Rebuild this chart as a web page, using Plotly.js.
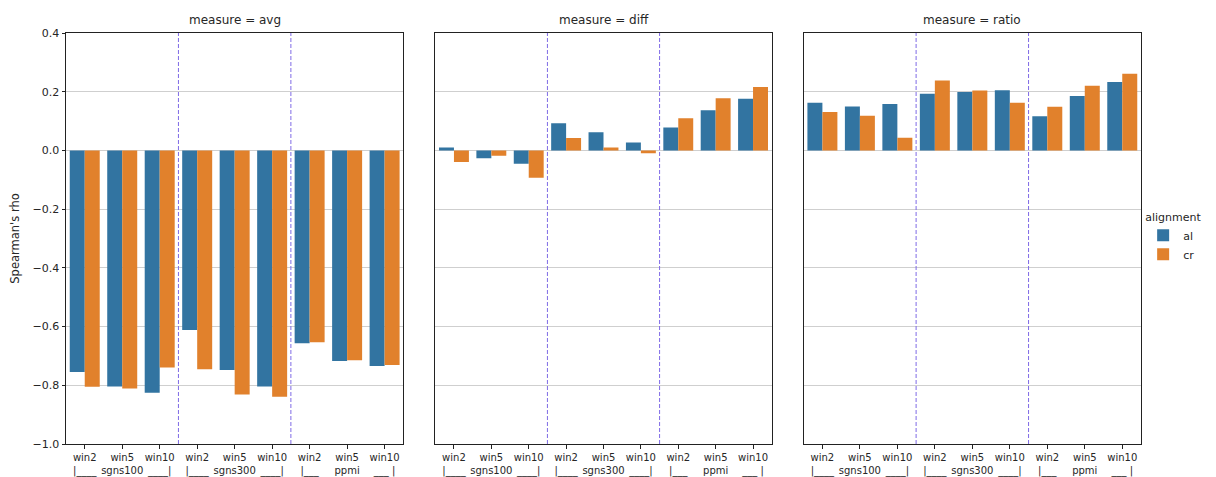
<!DOCTYPE html>
<html>
<head>
<meta charset="utf-8">
<script src="https://cdn.plot.ly/plotly-3.0.1.min.js"></script>
<style>html,body{margin:0;padding:0;background:#fff;}#chart{width:1216px;height:477px;}</style>
</head>
<body>
<div id="chart"></div>
<script>
// ---- data ----
const windows = ['win2', 'win5', 'win10'];
const models = ['sgns100', 'sgns300', 'ppmi'];
const measures = ['avg', 'diff', 'ratio'];
const alignments = ['al', 'cr'];
const tickLine1 = ['win2', 'win5', 'win10', 'win2', 'win5', 'win10', 'win2', 'win5', 'win10'];
const tickLine2 = ['|____', 'sgns100', '____|', '|____', 'sgns300', '____|', '|___', 'ppmi', '___ |'];

const avg_al = [-0.755, -0.804, -0.825, -0.612, -0.748, -0.804, -0.657, -0.717, -0.734];
const avg_cr = [-0.805, -0.811, -0.739, -0.745, -0.831, -0.839, -0.653, -0.715, -0.731];
const diff_al = [0.010, -0.027, -0.045, 0.093, 0.062, 0.027, 0.078, 0.137, 0.176];
const diff_cr = [-0.039, -0.018, -0.093, 0.042, 0.010, -0.010, 0.110, 0.178, 0.216];
const ratio_al = [0.162, 0.150, 0.158, 0.193, 0.199, 0.205, 0.116, 0.185, 0.233];
const ratio_cr = [0.131, 0.118, 0.043, 0.238, 0.204, 0.162, 0.149, 0.220, 0.261];

const seriesByMeasure = {
  avg: [avg_al, avg_cr],
  diff: [diff_al, diff_cr],
  ratio: [ratio_al, ratio_cr]
};

// ---- styling ----
const colors = {al: '#3274a1', cr: '#e1812c'};
const FONT = 'DejaVu Sans, sans-serif';
const domains = [[0, 0.3138], [0.3435, 0.6565], [0.6862, 1]];
const xpos = tickLine1.map((_, i) => i);
const ticktext = tickLine1.map((t, i) => t + '<br>' + tickLine2[i]);

const traces = [];
measures.forEach((m, mi) => {
  const sfx = mi === 0 ? '' : String(mi + 1);
  alignments.forEach((a, ai) => {
    traces.push({
      type: 'bar',
      x: xpos,
      y: seriesByMeasure[m][ai],
      name: a,
      legendgroup: a,
      showlegend: mi === 0,
      marker: {color: colors[a], line: {width: 0}},
      xaxis: 'x' + sfx,
      yaxis: 'y' + sfx,
      hoverinfo: 'skip'
    });
  });
});

const layout = {
  width: 1216, height: 477,
  margin: {l: 66, r: 73, t: 33, b: 33},
  paper_bgcolor: '#fff', plot_bgcolor: '#fff',
  font: {family: FONT, size: 11, color: '#262626'},
  barmode: 'group', bargap: 0.2, bargroupgap: 0,
  showlegend: true,
  legend: {
    title: {text: 'alignment', font: {size: 11}},
    x: 1.002, xanchor: 'left', y: 0.578, yanchor: 'top',
    font: {size: 11}, bgcolor: 'rgba(0,0,0,0)', tracegroupgap: 0,
    itemwidth: 30
  },
  shapes: [],
  annotations: []
};

measures.forEach((m, mi) => {
  const sfx = mi === 0 ? '' : String(mi + 1);
  layout['xaxis' + sfx] = {
    domain: domains[mi], anchor: 'y' + sfx,
    range: [-0.5, tickLine1.length - 0.5],
    tickmode: 'array', tickvals: xpos, ticktext: ticktext,
    tickangle: 0,
    ticks: 'outside', ticklen: 3.5, tickcolor: '#222',
    showline: true, mirror: true, linecolor: '#222', linewidth: 1,
    showgrid: false, zeroline: false, fixedrange: true,
    tickfont: {size: 10}
  };
  layout['yaxis' + sfx] = {
    anchor: 'x' + sfx,
    range: [-1.0, 0.4], dtick: 0.2, tick0: 0, tickformat: '.1f',
    matches: mi === 0 ? undefined : 'y',
    showticklabels: mi === 0,
    ticks: mi === 0 ? 'outside' : '', ticklen: 3.5, tickcolor: '#222',
    showline: true, mirror: true, linecolor: '#222', linewidth: 1,
    showgrid: true, gridcolor: '#cfcfcf', gridwidth: 1,
    zeroline: false, fixedrange: true,
    tickfont: {size: 11}
  };
  if (mi === 0) {
    layout.yaxis.title = {text: "Spearman's rho", font: {size: 11.5}, standoff: 10};
  }
  // separators between model groups
  for (let g = 1; g < models.length; g++) {
    const xs = g * windows.length - 0.5;
    layout.shapes.push({
      type: 'line', xref: 'x' + sfx, yref: 'y' + sfx + ' domain',
      x0: xs, x1: xs, y0: 0, y1: 1,
      line: {color: '#7f6be6', width: 1, dash: '4px,2px'}
    });
  }
  layout.annotations.push({
    text: 'measure = ' + m,
    xref: 'x' + sfx + ' domain', yref: 'y' + sfx + ' domain',
    x: 0.5, y: 1, yanchor: 'bottom', xanchor: 'center', yshift: 4,
    showarrow: false, font: {size: 12}
  });
});

Plotly.newPlot('chart', traces, layout, {displayModeBar: false, staticPlot: true});
</script>
</body>
</html>
